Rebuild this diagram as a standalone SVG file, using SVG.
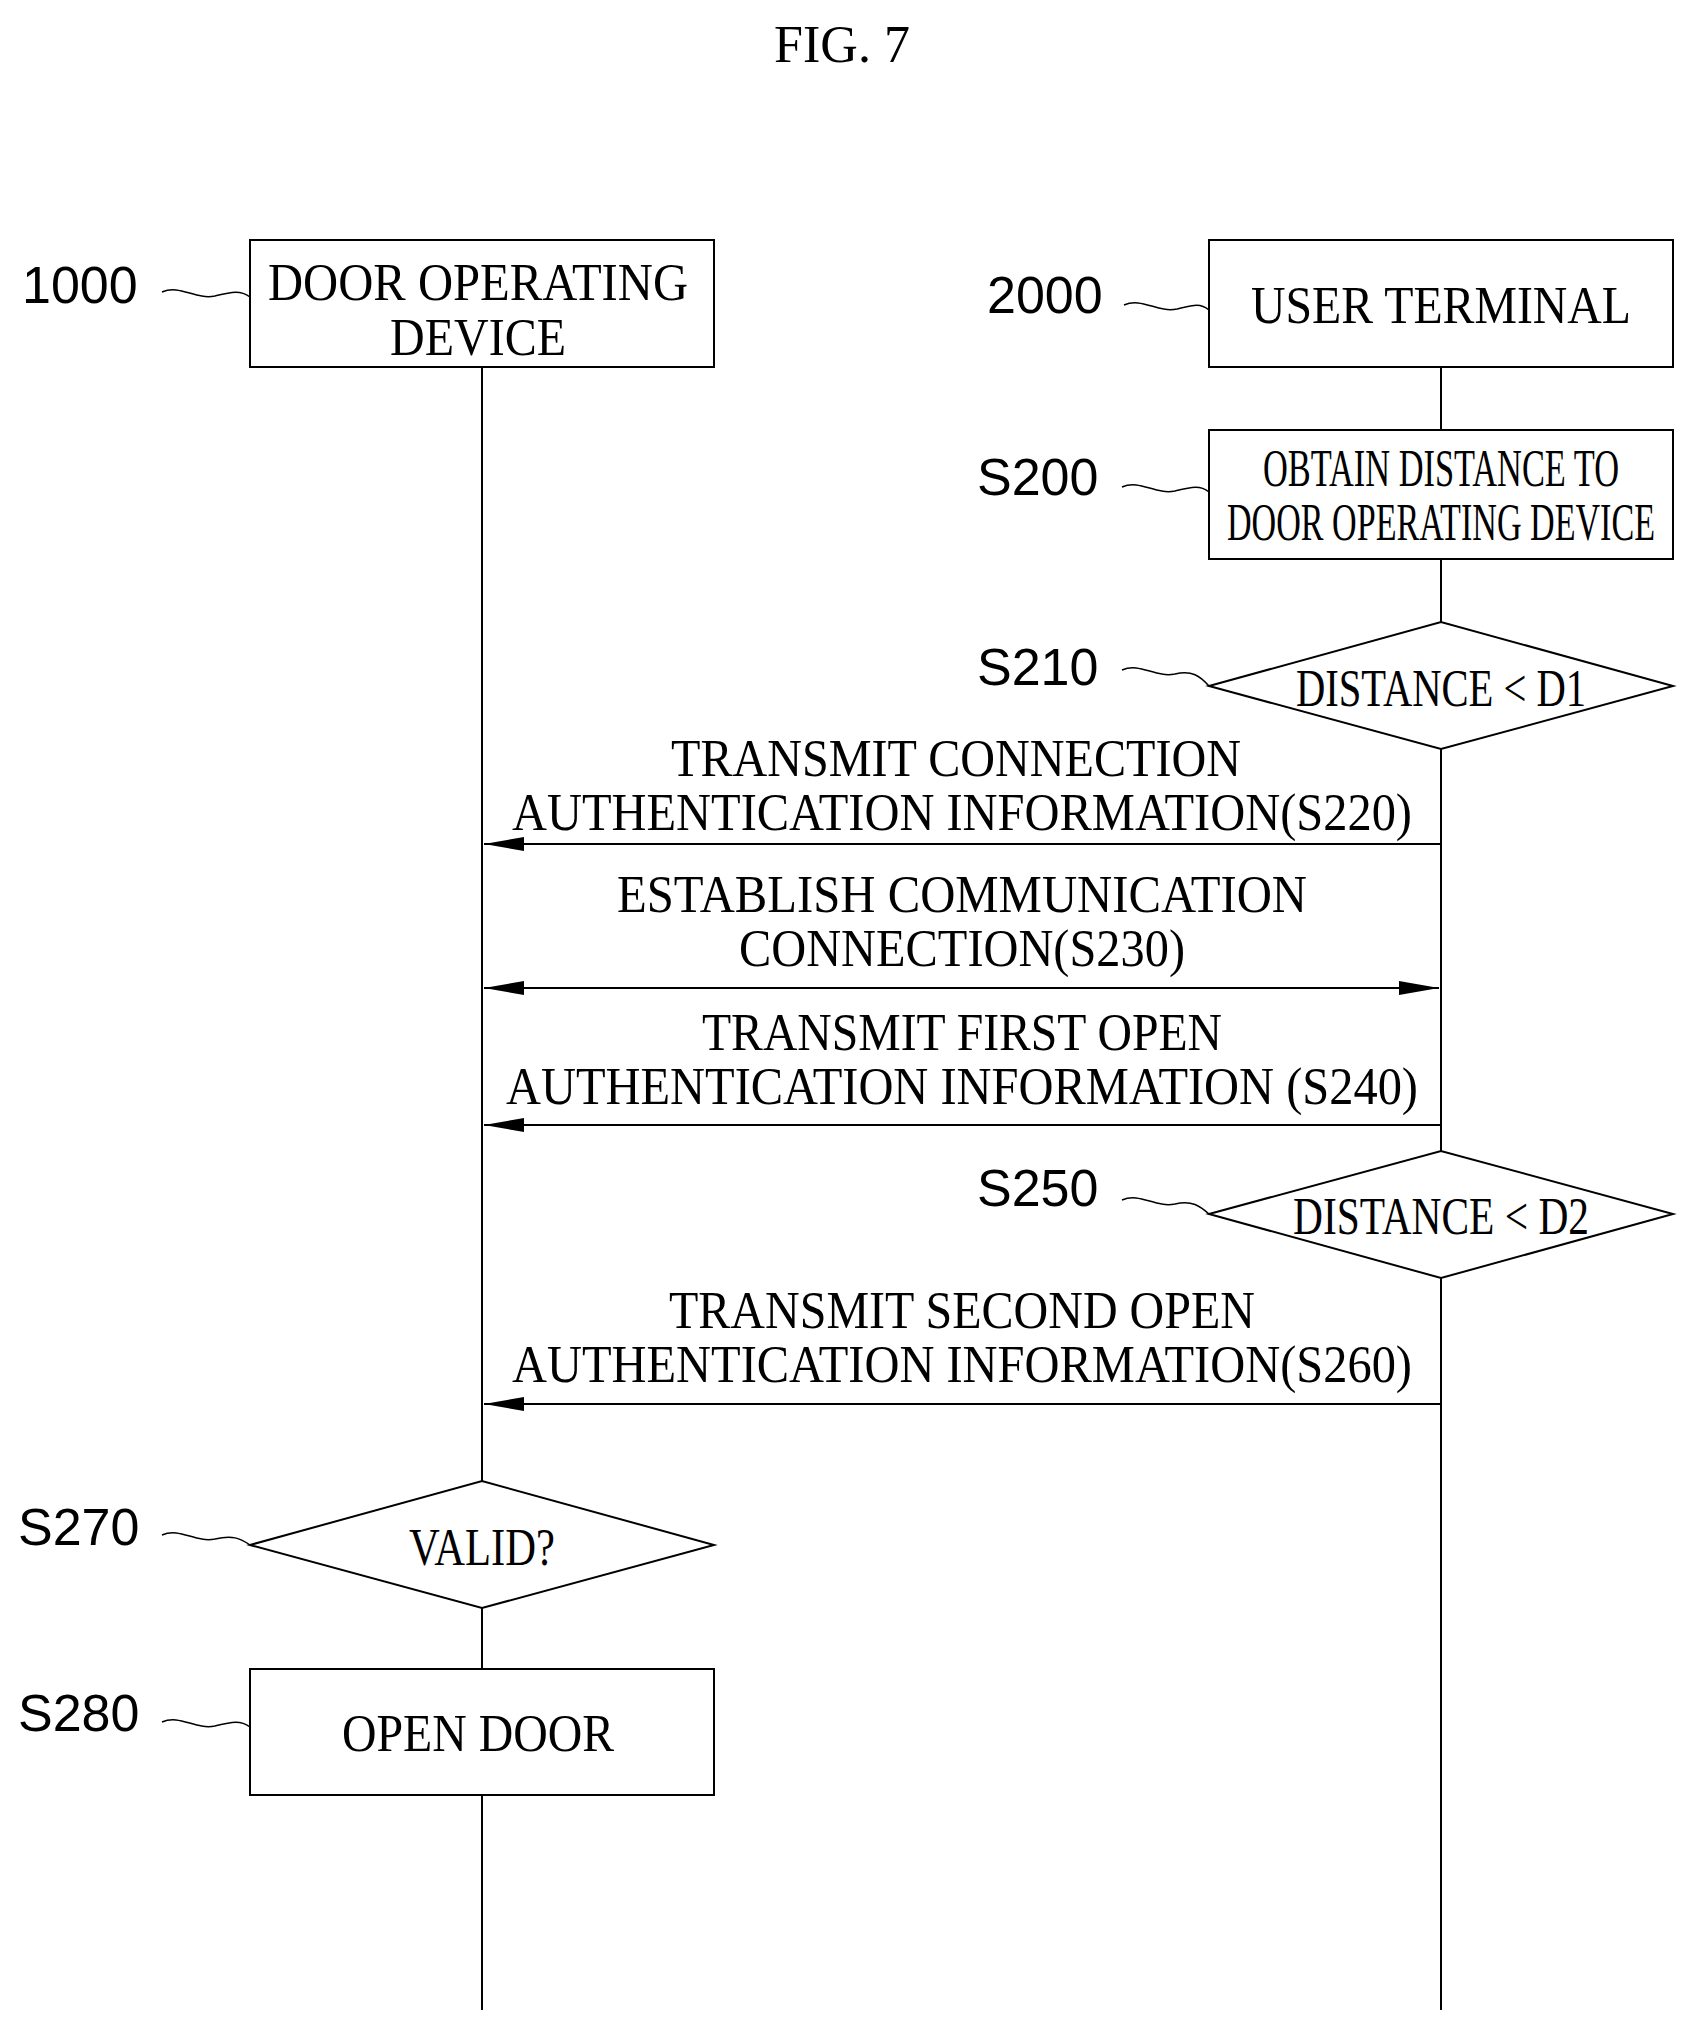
<svg xmlns="http://www.w3.org/2000/svg" width="1685" height="2020" viewBox="0 0 1685 2020">
<style>
.b{fill:#fff;stroke:#000;stroke-width:2}
.t{font-family:"Liberation Serif",serif;font-size:52px;text-anchor:middle}
.l{font-family:"Liberation Sans",sans-serif;font-size:52px}
.s{fill:none;stroke:#000;stroke-width:1.5}
.ln{stroke:#000;stroke-width:2;fill:none}
</style>
<defs>
<marker id="ah" viewBox="0 0 40 20" markerWidth="40" markerHeight="20" refX="40" refY="10" orient="auto-start-reverse" markerUnits="userSpaceOnUse"><path d="M0,3 L40,10 L0,17 Z" fill="#000"/></marker>
</defs>
<rect width="1685" height="2020" fill="#fff"/>
<text x="842" y="62" class="t" font-size="58">FIG. 7</text>
<g id="connectors">
<line class="ln" x1="482" y1="367" x2="482" y2="1481"/>
<line class="ln" x1="482" y1="1608" x2="482" y2="1669"/>
<line class="ln" x1="482" y1="1795" x2="482" y2="2010"/>
<line class="ln" x1="1441" y1="367" x2="1441" y2="430"/>
<line class="ln" x1="1441" y1="559" x2="1441" y2="622"/>
<line class="ln" x1="1441" y1="749" x2="1441" y2="1151"/>
<line class="ln" x1="1441" y1="1278" x2="1441" y2="2010"/>
<line class="ln" x1="1441" y1="844" x2="484" y2="844" marker-end="url(#ah)"/>
<line class="ln" x1="484" y1="988" x2="1439" y2="988" marker-start="url(#ah)" marker-end="url(#ah)"/>
<line class="ln" x1="1441" y1="1125" x2="484" y2="1125" marker-end="url(#ah)"/>
<line class="ln" x1="1441" y1="1404" x2="484" y2="1404" marker-end="url(#ah)"/>
<text class="t" x="956" y="776" textLength="570" lengthAdjust="spacingAndGlyphs">TRANSMIT CONNECTION</text>
<text class="t" x="962" y="830" textLength="900" lengthAdjust="spacingAndGlyphs">AUTHENTICATION INFORMATION(S220)</text>
<text class="t" x="962" y="912" textLength="690" lengthAdjust="spacingAndGlyphs">ESTABLISH COMMUNICATION</text>
<text class="t" x="962" y="966" textLength="446" lengthAdjust="spacingAndGlyphs">CONNECTION(S230)</text>
<text class="t" x="962" y="1050" textLength="520" lengthAdjust="spacingAndGlyphs">TRANSMIT FIRST OPEN</text>
<text class="t" x="962" y="1104" textLength="912" lengthAdjust="spacingAndGlyphs">AUTHENTICATION INFORMATION (S240)</text>
<text class="t" x="962" y="1328" textLength="586" lengthAdjust="spacingAndGlyphs">TRANSMIT SECOND OPEN</text>
<text class="t" x="962" y="1382" textLength="900" lengthAdjust="spacingAndGlyphs">AUTHENTICATION INFORMATION(S260)</text>
</g>
<g id="n1000">
<rect class="b" x="250" y="240" width="464" height="127"/>
<text class="t" x="478" y="300" textLength="420" lengthAdjust="spacingAndGlyphs">DOOR OPERATING</text>
<text class="t" x="478" y="355" textLength="176" lengthAdjust="spacingAndGlyphs">DEVICE</text>
<text class="l" x="22" y="303">1000</text>
<path class="s" d="M162,292 C180,284 195,300 215,296 C232,292 240,290 250,297"/>
</g>
<g id="n2000">
<rect class="b" x="1209" y="240" width="464" height="127"/>
<text class="t" x="1441" y="323" textLength="380" lengthAdjust="spacingAndGlyphs">USER TERMINAL</text>
<text class="l" x="987" y="313">2000</text>
<path class="s" d="M1124,305 C1142,297 1157,313 1177,309 C1194,305 1200,303 1209,310"/>
</g>
<g id="s200">
<rect class="b" x="1209" y="430" width="464" height="129"/>
<text class="t" x="1441" y="486" font-size="46" textLength="356" lengthAdjust="spacingAndGlyphs">OBTAIN DISTANCE TO</text>
<text class="t" x="1441" y="540" font-size="46" textLength="428" lengthAdjust="spacingAndGlyphs">DOOR OPERATING DEVICE</text>
<text class="l" x="977" y="495">S200</text>
<path class="s" d="M1122,487 C1140,479 1155,495 1175,491 C1192,487 1200,485 1209,492"/>
</g>
<g id="s210">
<polygon class="b" points="1209,686 1441,622 1673,686 1441,749"/>
<text class="t" x="1441" y="706" textLength="290" lengthAdjust="spacingAndGlyphs">DISTANCE &lt; D1</text>
<text class="l" x="977" y="685">S210</text>
<path class="s" d="M1122,670 C1140,662 1155,678 1175,674 C1192,670 1200,676 1209,686"/>
</g>
<g id="s250">
<polygon class="b" points="1209,1214 1441,1151 1673,1214 1441,1278"/>
<text class="t" x="1441" y="1234" textLength="296" lengthAdjust="spacingAndGlyphs">DISTANCE &lt; D2</text>
<text class="l" x="977" y="1206">S250</text>
<path class="s" d="M1122,1200 C1140,1192 1155,1208 1175,1204 C1192,1200 1200,1206 1209,1214"/>
</g>
<g id="s270">
<polygon class="b" points="250,1545 482,1481 714,1545 482,1608"/>
<text class="t" x="482" y="1565" textLength="146" lengthAdjust="spacingAndGlyphs">VALID?</text>
<text class="l" x="18" y="1545">S270</text>
<path class="s" d="M162,1535 C180,1527 195,1543 215,1539 C232,1535 240,1538 250,1545"/>
</g>
<g id="s280">
<rect class="b" x="250" y="1669" width="464" height="126"/>
<text class="t" x="478" y="1751" textLength="272" lengthAdjust="spacingAndGlyphs">OPEN DOOR</text>
<text class="l" x="18" y="1731">S280</text>
<path class="s" d="M162,1722 C180,1714 195,1730 215,1726 C232,1722 240,1720 250,1727"/>
</g>
</svg>
